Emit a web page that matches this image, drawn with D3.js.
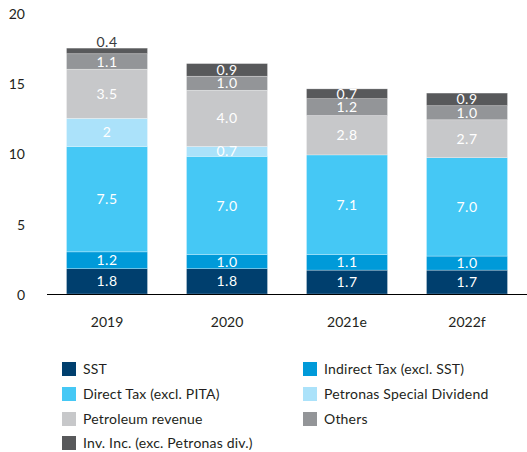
<!DOCTYPE html>
<html>
<head>
<meta charset="utf-8">
<script src="https://cdn.jsdelivr.net/npm/d3@7"></script>
<style>
  html, body { margin: 0; padding: 0; background: #fff; }
  svg { display: block; }
  text { font-family: Lato, "Open Sans", sans-serif; }
</style>
</head>
<body>
<svg id="chart" width="527" height="452"></svg>
<script>
const categories = ["2019", "2020", "2021e", "2022f"];
const seriesNames = ["SST", "Indirect Tax (excl. SST)", "Direct Tax (excl. PITA)", "Petronas Special Dividend", "Petroleum revenue", "Others", "Inv. Inc. (exc. Petronas div.)"];
const sst = [1.8, 1.8, 1.7, 1.7];
const indirectTax = [1.2, 1.0, 1.1, 1.0];
const directTax = [7.5, 7.0, 7.1, 7.0];
const petronasDividend = [2, 0.7, 0, 0];
const petroleumRevenue = [3.5, 4.0, 2.8, 2.7];
const others = [1.1, 1.0, 1.2, 1.0];
const invIncome = [0.4, 0.9, 0.7, 0.9];
const valueLabels = [
  ["1.8", "1.8", "1.7", "1.7"],
  ["1.2", "1.0", "1.1", "1.0"],
  ["7.5", "7.0", "7.1", "7.0"],
  ["2", "0.7", "", ""],
  ["3.5", "4.0", "2.8", "2.7"],
  ["1.1", "1.0", "1.2", "1.0"],
  ["0.4", "0.9", "0.7", "0.9"]
];
const yTicks = [0, 5, 10, 15, 20];
const colors = ["#003f6e", "#009ad9", "#45c8f5", "#abe2fa", "#c7c8ca", "#939598", "#58595b"];

const seriesValues = [sst, indirectTax, directTax, petronasDividend, petroleumRevenue, others, invIncome];
const keys = seriesNames;
const table = categories.map((c, i) => {
  const row = { category: c };
  keys.forEach((k, j) => row[k] = seriesValues[j][i]);
  return row;
});
const stacked = d3.stack().keys(keys)(table);

const svg = d3.select("#chart");
const x = d3.scaleBand().domain(categories).range([47, 527]).paddingInner(0.325).paddingOuter(0.1625);
const y = d3.scaleLinear().domain([0, 20]).range([294, 13]);

// bars
const layers = svg.append("g").selectAll("g").data(stacked).join("g")
  .attr("fill", (d, i) => colors[i]);
layers.selectAll("rect").data(d => d.map(p => ({p, key: d.key}))).join("rect")
  .attr("x", d => x(d.p.data.category))
  .attr("width", x.bandwidth())
  .attr("y", d => y(d.p[1]))
  .attr("height", d => Math.max(0, y(d.p[0]) - y(d.p[1])))
  .attr("stroke", "rgba(255,255,255,0.45)")
  .attr("stroke-width", 0.6);

// value labels
stacked.forEach((layer, li) => {
  layer.forEach((p, ci) => {
    const label = valueLabels[li][ci];
    if (!label) return;
    const cx = x(p.data.category) + x.bandwidth() / 2;
    const small = li === 6 && ci === 0;
    const cy = small ? y(p[1]) - 6 : (y(p[0]) + y(p[1])) / 2;
    svg.append("text")
      .attr("x", cx).attr("y", cy)
      .attr("dy", "0.36em")
      .attr("text-anchor", "middle")
      .attr("font-size", 14)
      .attr("letter-spacing", "0.5px")
      .attr("fill", small ? "#3a3a3c" : "#fff")
      .text(label);
  });
});

// x axis
const xAxis = svg.append("g").attr("transform", "translate(0,294)")
  .call(d3.axisBottom(x).tickSize(0).tickPadding(0));
xAxis.select(".domain").attr("stroke", "#000").attr("d", "M47,0.5H527");
xAxis.selectAll("text").attr("dy", null).attr("y", 33)
  .attr("font-size", 14).attr("fill", "#231f20").attr("font-family", "Lato, sans-serif");

// y axis
const yAxis = svg.append("g").attr("transform", "translate(25,1)")
  .call(d3.axisLeft(y).tickValues(yTicks).tickSize(0).tickPadding(0));
yAxis.select(".domain").remove();
yAxis.selectAll("text").attr("font-size", 14).attr("fill", "#231f20").attr("font-family", "Lato, sans-serif");

// legend
const legendPos = [
  [62, 369], [303, 369],
  [62, 394], [303, 394],
  [62, 419], [303, 419],
  [62, 443]
];
const legend = svg.append("g").selectAll("g").data(seriesNames).join("g")
  .attr("transform", (d, i) => `translate(${legendPos[i][0]},${legendPos[i][1]})`);
legend.append("rect").attr("x", 0).attr("y", -7).attr("width", 14).attr("height", 14)
  .attr("fill", (d, i) => colors[i]);
legend.append("text").attr("x", 21).attr("y", 0).attr("dy", "0.36em")
  .attr("font-size", 14).attr("letter-spacing", "0.2px").attr("fill", "#231f20").text(d => d);
</script>
</body>
</html>
